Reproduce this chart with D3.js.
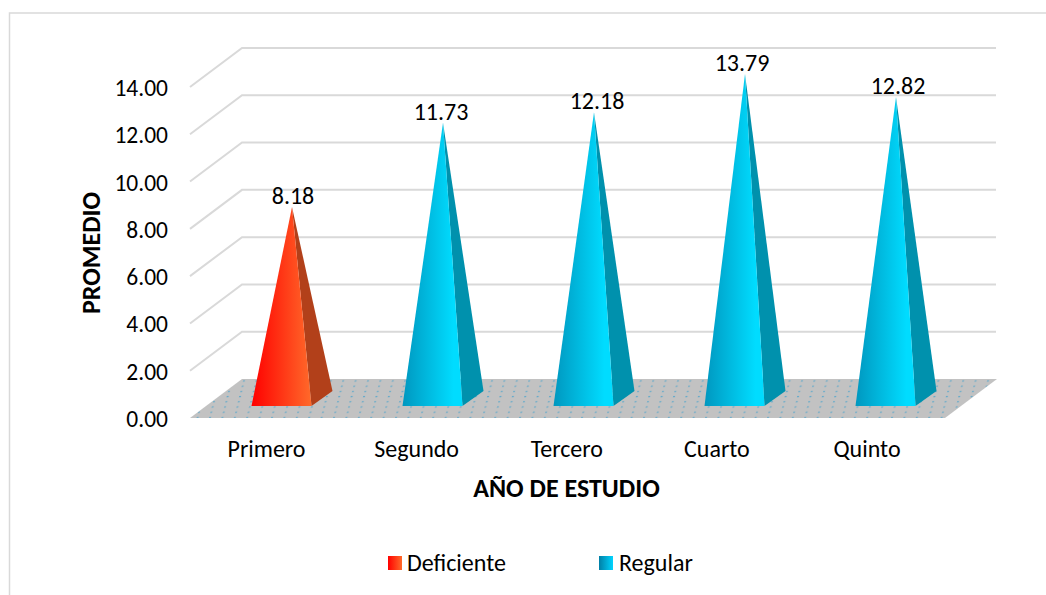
<!DOCTYPE html>
<html><head><meta charset="utf-8">
<script src="https://cdn.jsdelivr.net/npm/d3@7"></script>
<style>html,body{margin:0;padding:0;background:#fff}svg{display:block}text{font-family:Carlito,Calibri,Lato,"Open Sans",sans-serif;fill:#000}</style>
</head><body><svg id="c" width="1046" height="595"></svg>
<script>
const categories=["Primero","Segundo","Tercero","Cuarto","Quinto"];
const values=[8.18,11.73,12.18,13.79,12.82];
const seriesOf=["Deficiente","Regular","Regular","Regular","Regular"];
const legendNames=["Deficiente","Regular"];
const yTicks=[0,2,4,6,8,10,12,14];
const tickFmt=d3.format(".2f");

const svg=d3.select("#c");
const defs=svg.append("defs");
const grad=(id,a,b,o)=>{const g=defs.append("linearGradient").attr("id",id);g.append("stop").attr("offset","0").attr("stop-color",a);g.append("stop").attr("offset",o||1).attr("stop-color",b);};
grad("gR","#ff0000","#ff6a2a");
grad("gB","#0097bf","#00dcff",.85);
grad("lR","#ff0000","#ff6a2a");
grad("lB","#007fa6","#00d4ff");
const sideColor={Deficiente:"#b2401a",Regular:"#0091ad"};
const fillOf={Deficiente:"url(#gR)",Regular:"url(#gB)"};

const pat=defs.append("pattern").attr("id","dots").attr("patternUnits","userSpaceOnUse")
 .attr("width",12.4).attr("height",5.2).attr("patternTransform","translate(197,416) skewX(-14)");
pat.append("rect").attr("width",12.4).attr("height",5.2).attr("fill","#c2c2c2");
pat.append("rect").attr("x",0).attr("y",0.8).attr("width",2).attr("height",1.2).attr("fill","#68abca");

// frame
svg.append("path").attr("d","M9.5,595V13H1046").attr("fill","none").attr("stroke","#d9d9d9").attr("stroke-width",1.5);

const depthX=52;
const x=d3.scaleBand().domain(categories).range([190,945]);
const xLabel=d3.scalePoint().domain(categories).range([266.5,867]);
const yFront=d3.scaleLinear().domain([0,14]).range([418,87]);
const yBack=d3.scaleLinear().domain([0,14]).range([379,48]);
const yApex=d3.scaleLinear().domain([0,14]).range([401,69]);

// gridlines
svg.append("g").selectAll("path").data(yTicks.slice(1)).join("path")
 .attr("d",t=>`M${x.range()[0]},${yFront(t)}L${x.range()[0]+depthX},${yBack(t)}H${x.range()[1]+depthX-1}`)
 .attr("fill","none").attr("stroke","#d9d9d9").attr("stroke-width",2);

// floor
const fl=x.range()[0],fr=x.range()[1],f0=yFront(0),b0=yBack(0);
svg.append("path").attr("d",`M${fl},${f0}L${fl+depthX},${b0}H${fr+depthX}L${fr},${f0}Z`).attr("fill","url(#dots)");

// pyramids
const bw=60, sx=21, sy=-15, by=406;
const labelDx=[1,-2,3,-3,2];
const g=svg.append("g").selectAll("g").data(categories).join("g");
g.each(function(c,i){
 const left=x(c)+x.bandwidth()/2-14, right=left+bw;
 const ax=left+(bw+sx)/2, ay=yApex(values[i]);
 const s=seriesOf[i], n=d3.select(this);
 n.append("path").attr("d",`M${right},${by}L${right+sx},${by+sy}L${ax},${ay}Z`).attr("fill",sideColor[s]);
 n.append("path").attr("d",`M${left},${by}H${right}L${ax},${ay}Z`).attr("fill",fillOf[s]);
 n.append("text").attr("x",ax+labelDx[i]).attr("y",ay-3).attr("text-anchor","middle").attr("font-size",24).text(values[i].toFixed(2));
 n.append("text").attr("x",xLabel(c)).attr("y",457).attr("text-anchor","middle").attr("font-size",24).text(c);
});

// y axis
const yAx=svg.append("g").attr("transform","translate(168,0)").call(d3.axisLeft(yFront).tickValues(yTicks).tickFormat(tickFmt).tickSize(0).tickPadding(0));
yAx.select(".domain").remove();
yAx.selectAll("text").attr("font-size",23.5).attr("dy","0.36em");
yAx.attr("font-family",null);

svg.append("text").attr("transform","translate(100,253) rotate(-90)").attr("text-anchor","middle").attr("font-size",26).attr("font-weight","700").text("PROMEDIO");
svg.append("text").attr("x",566.5).attr("y",497).attr("text-anchor","middle").attr("font-size",26).attr("font-weight","700").text("AÑO DE ESTUDIO");

// legend
const lg=svg.append("g").selectAll("g").data(legendNames).join("g").attr("transform",(d,i)=>`translate(${[388,599][i]},556)`);
lg.append("rect").attr("width",14).attr("height",14).attr("fill",d=>d==="Deficiente"?"url(#lR)":"url(#lB)");
lg.append("text").attr("x",d=>d==="Deficiente"?19:20).attr("y",15).attr("font-size",24).text(d=>d);
</script></body></html>
